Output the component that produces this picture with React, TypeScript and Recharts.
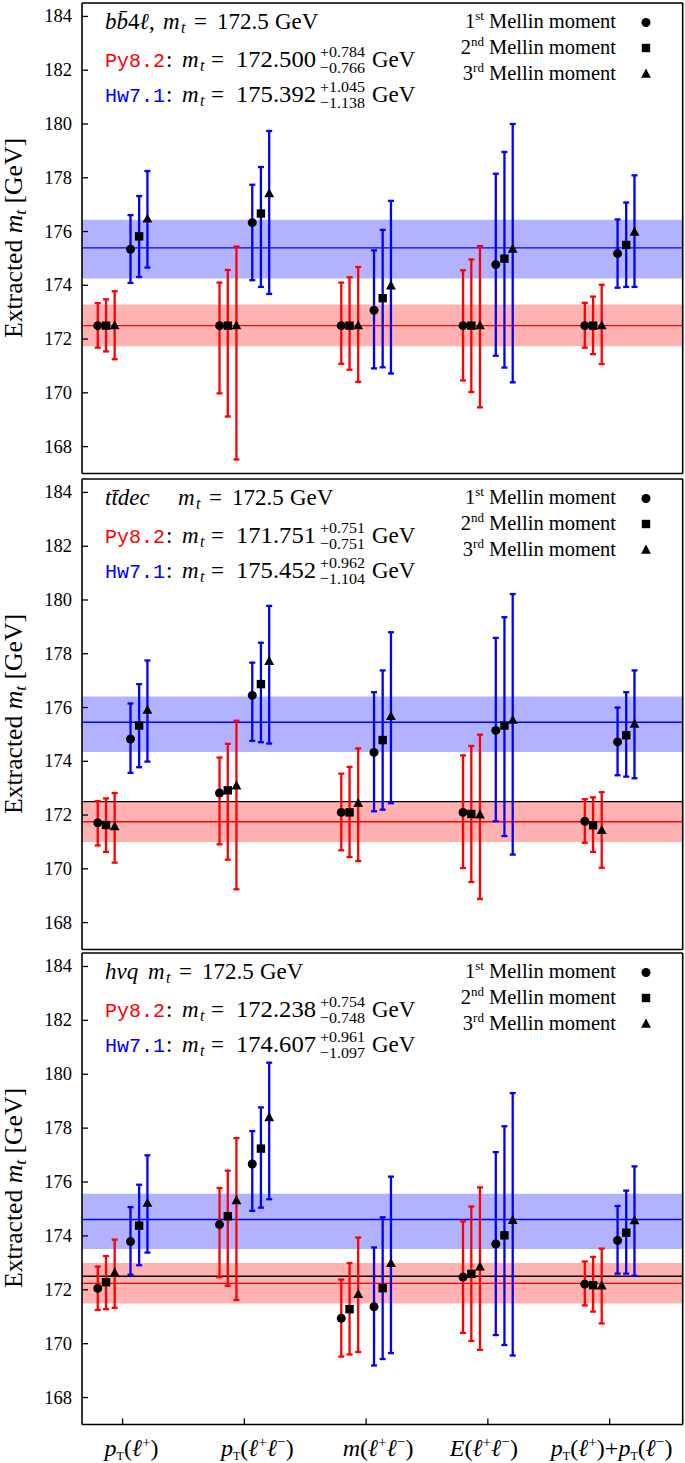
import React from 'react';
import { ScatterChart, Scatter, XAxis, YAxis, ErrorBar, ReferenceArea, ReferenceLine } from 'recharts';

// observables on the x axis (tick labels)
const categories = ['pT(ℓ+)', 'pT(ℓ+ℓ−)', 'm(ℓ+ℓ−)', 'E(ℓ+ℓ−)', 'pT(ℓ+)+pT(ℓ−)'];
const moments = ['1st', '2nd', '3rd'];
const yTicks = [168, 170, 172, 174, 176, 178, 180, 182, 184];
const trueMass = 172.5;

// one entry per panel
const panelTitles = ['bb̄4ℓ', 'tt̄dec', 'hvq'];
const pyMass = [172.5, 171.751, 172.238];
const pyUp = [0.784, 0.751, 0.754];
const pyDown = [0.766, 0.751, 0.748];
const hwMass = [175.392, 175.452, 174.607];
const hwUp = [1.045, 0.962, 0.961];
const hwDown = [1.138, 1.104, 1.097];

// bb4l panel: rows = 1st/2nd/3rd moment, columns = observables
const bb4lPyVal = [
  [172.5, 172.5, 172.5, 172.5, 172.5],
  [172.5, 172.5, 172.5, 172.5, 172.5],
  [172.5, 172.5, 172.5, 172.5, 172.5],
];
const bb4lPyLo = [
  [171.68, 169.98, 171.08, 170.46, 171.68],
  [171.54, 169.12, 170.86, 170.03, 171.44],
  [171.25, 167.52, 170.41, 169.46, 171.07],
];
const bb4lPyHi = [
  [173.34, 174.1, 174.1, 174.56, 173.35],
  [173.48, 174.57, 174.3, 174.96, 173.58],
  [173.78, 175.44, 174.68, 175.46, 174.02],
];
const bb4lHwVal = [
  [175.34, 176.33, 173.07, 174.77, 175.18],
  [175.82, 176.67, 173.52, 174.99, 175.5],
  [176.47, 177.41, 173.98, 175.35, 175.98],
];
const bb4lHwLo = [
  [174.09, 174.19, 170.91, 171.38, 173.91],
  [174.31, 173.94, 170.95, 170.94, 173.94],
  [174.66, 173.68, 170.72, 170.39, 173.94],
];
const bb4lHwHi = [
  [176.61, 177.74, 175.3, 178.15, 176.45],
  [177.32, 178.4, 176.06, 178.96, 177.08],
  [178.25, 179.74, 177.14, 180.0, 178.09],
];

// ttdec panel
const ttdecPyVal = [
  [171.71, 172.82, 172.1, 172.1, 171.77],
  [171.63, 172.92, 172.1, 172.04, 171.62],
  [171.57, 173.09, 172.44, 172.01, 171.43],
];
const ttdecPyLo = [
  [170.87, 170.91, 170.69, 170.03, 170.97],
  [170.63, 170.34, 170.44, 169.51, 170.63],
  [170.23, 169.24, 170.29, 168.88, 170.04],
];
const ttdecPyHi = [
  [172.52, 174.14, 173.54, 174.22, 172.59],
  [172.62, 174.65, 173.79, 174.57, 172.66],
  [172.82, 175.51, 174.48, 174.99, 172.85],
];
const ttdecHwVal = [
  [174.83, 176.45, 174.33, 175.15, 174.72],
  [175.33, 176.87, 174.79, 175.33, 174.97],
  [175.91, 177.72, 175.67, 175.53, 175.39],
];
const ttdecHwLo = [
  [173.57, 174.76, 172.14, 171.77, 173.48],
  [173.78, 174.71, 172.2, 171.22, 173.43],
  [173.99, 174.66, 172.44, 170.53, 173.37],
];
const ttdecHwHi = [
  [176.15, 177.67, 176.57, 178.59, 176.0],
  [176.87, 178.41, 177.38, 179.36, 176.57],
  [177.75, 179.78, 178.8, 180.22, 177.38],
];

// hvq panel
const hvqPyVal = [
  [172.05, 174.42, 170.94, 172.47, 172.21],
  [172.28, 174.73, 171.28, 172.59, 172.17],
  [172.63, 175.31, 171.83, 172.85, 172.15],
];
const hvqPyLo = [
  [171.25, 172.47, 169.52, 170.4, 171.42],
  [171.28, 172.15, 169.6, 170.1, 171.19],
  [171.33, 171.62, 169.69, 169.77, 170.75],
];
const hvqPyHi = [
  [172.86, 175.78, 172.38, 174.54, 173.05],
  [173.25, 176.42, 172.99, 175.09, 173.22],
  [173.86, 177.63, 173.94, 175.8, 173.53],
];
const hvqHwVal = [
  [173.79, 176.67, 171.37, 173.7, 173.83],
  [174.38, 177.24, 172.06, 174.02, 174.12],
  [175.22, 178.39, 172.98, 174.58, 174.57],
];
const hvqHwLo = [
  [172.56, 174.93, 169.19, 170.32, 172.6],
  [172.91, 175.05, 169.43, 169.95, 172.6],
  [173.38, 175.36, 169.65, 169.56, 172.52],
];
const hvqHwHi = [
  [175.07, 177.89, 173.57, 177.11, 175.11],
  [175.9, 178.77, 174.69, 178.07, 175.68],
  [176.99, 180.43, 176.2, 179.3, 176.58],
];

const pyVal = [bb4lPyVal, ttdecPyVal, hvqPyVal];
const pyLo = [bb4lPyLo, ttdecPyLo, hvqPyLo];
const pyHi = [bb4lPyHi, ttdecPyHi, hvqPyHi];
const hwVal = [bb4lHwVal, ttdecHwVal, hvqHwVal];
const hwLo = [bb4lHwLo, ttdecHwLo, hvqHwLo];
const hwHi = [bb4lHwHi, ttdecHwHi, hvqHwHi];

// layout
const W = 685;
const SERIF = "'Liberation Serif', 'DejaVu Serif', serif";
const MONO = "'Liberation Mono', 'DejaVu Sans Mono', monospace";
const RED = '#ff0000';
const BLUE = '#0000ff';
const X_DOMAIN = [-1 / 3, 4.6];
const Y_DOMAIN = [167, 184.5];
const redShift = [-0.204, -0.136, -0.065];
const blueShift = [0.065, 0.136, 0.204];
const chartTops = [0, 475.5, 950];
const titleMx = [163, 178, 148];
const labelNudge = [9, 13, 12, -4, 2];

const buildSeries = (val: number[][], lo: number[][], hi: number[][], shift: number[]) =>
  moments.map((_, k) =>
    categories.map((_, i) => ({
      x: i + shift[k],
      y: val[k][i],
      err: [val[k][i] - lo[k][i], hi[k][i] - val[k][i]],
    }))
  );

const Marker = ({ cx, cy, kind }: any) => {
  if (cx == null || cy == null) return null;
  if (kind === 0) return <circle cx={cx} cy={cy} r={4.5} fill="#000" />;
  if (kind === 1) return <rect x={cx - 4.2} y={cy - 4.2} width={8.4} height={8.4} fill="#000" />;
  return <polygon points={`${cx},${cy - 5.5} ${cx - 4.9},${cy + 3.7} ${cx + 4.9},${cy + 3.7}`} fill="#000" />;
};

// turns "pT(ℓ+)" into tspans with italic letters, subscript T and superscript charges
const mathTspans = (s: string, base: number) => {
  const out: any[] = [];
  let shift = 0;
  const push = (text: string, style: any, target: number) => {
    const dy = target - shift;
    shift = target;
    out.push(
      <tspan key={out.length} dy={dy} {...style}>
        {text}
      </tspan>
    );
  };
  for (let i = 0; i < s.length; i++) {
    const c = s[i];
    const prev = s[i - 1];
    if (c === 'T' && prev === 'p') push('T', { fontSize: base * 0.5 }, base * 0.2);
    else if ((c === '+' || c === '−') && prev === 'ℓ') push(c, { fontSize: base * 0.64 }, -base * 0.36);
    else if ('pmEℓ'.includes(c)) push(c, { fontStyle: 'italic' }, 0);
    else push(c, {}, 0);
  }
  return out;
};

const XTick = (props: any) => {
  const { x, y, payload } = props;
  const i = payload.value;
  return (
    <text x={x + labelNudge[i]} y={y + 31} textAnchor="middle" fontFamily={SERIF} fontSize={24} fill="#000">
      {mathTspans(categories[i], 24)}
    </text>
  );
};

const YTick = (props: any) => {
  const { x, y, payload } = props;
  return (
    <text x={x} y={y + 6} textAnchor="end" fontFamily={SERIF} fontSize={18.5} fill="#000">
      {payload.value}
    </text>
  );
};

const Title = ({ p }: { p: number }) => {
  const t = panelTitles[p];
  const mx = titleMx[p];
  let head: any;
  if (p === 0)
    head = (
      <>
        <tspan fontStyle="italic">{t.slice(0, 3)}</tspan>
        <tspan>4</tspan>
        <tspan fontStyle="italic">ℓ</tspan>
        <tspan>,</tspan>
      </>
    );
  else head = <tspan fontStyle="italic">{t}</tspan>;
  return (
    <g fontFamily={SERIF} fill="#000">
      <text x={105} y={29} fontSize={23}>
        {head}
      </text>
      <text x={mx} y={29} fontSize={23} fontStyle="italic">m</text>
      <text x={mx + 18} y={33} fontSize={16} fontStyle="italic">t</text>
      <text x={mx + 31} y={29} fontSize={23}>=</text>
      <text x={mx + 54} y={29} fontSize={23}>{trueMass.toFixed(1)}</text>
      <text x={mx + 112} y={29} fontSize={23}>GeV</text>
    </g>
  );
};

const ResultLine = ({ name, color, mass, up, down, y }: any) => (
  <g fontFamily={SERIF} fill="#000">
    <text x={105} y={y} fontSize={20} fontFamily={MONO} fill={color}>{name}</text>
    <text x={166} y={y} fontSize={23}>:</text>
    <text x={182} y={y} fontSize={23} fontStyle="italic">m</text>
    <text x={200} y={y + 4} fontSize={16} fontStyle="italic">t</text>
    <text x={211} y={y} fontSize={23}>=</text>
    <text x={236} y={y} fontSize={23} textLength={80} lengthAdjust="spacingAndGlyphs">{mass.toFixed(3)}</text>
    <text x={320} y={y - 10} fontSize={15.5} textLength={45} lengthAdjust="spacingAndGlyphs">{'+' + up.toFixed(3)}</text>
    <text x={320} y={y + 6.5} fontSize={15.5} textLength={45} lengthAdjust="spacingAndGlyphs">{'−' + down.toFixed(3)}</text>
    <text x={372} y={y} fontSize={23}>GeV</text>
  </g>
);

const MomentKey = () => (
  <g fontFamily={SERIF} fill="#000">
    {moments.map((m, k) => {
      const y = [28, 54, 79.5][k];
      const cy = [22.5, 48, 74][k];
      return (
        <g key={m}>
          <text x={616} y={y} fontSize={20.5} textAnchor="end">
            <tspan>{m[0]}</tspan>
            <tspan fontSize={13} dy={-8}>{m.slice(1)}</tspan>
            <tspan dy={8}> Mellin moment</tspan>
          </text>
          <Marker cx={646} cy={cy} kind={k} />
        </g>
      );
    })}
  </g>
);

const Overlay = ({ p }: { p: number }) => (
  <svg width={W} height={476} style={{ position: 'absolute', left: 0, top: chartTops[p], pointerEvents: 'none' }}>
    <Title p={p} />
    <ResultLine name="Py8.2" color={RED} mass={pyMass[p]} up={pyUp[p]} down={pyDown[p]} y={66.5} />
    <ResultLine name="Hw7.1" color={BLUE} mass={hwMass[p]} up={hwUp[p]} down={hwDown[p]} y={101.5} />
    <MomentKey />
    <text
      x={22}
      y={238}
      transform="rotate(-90 22 238)"
      textAnchor="middle"
      fontFamily={SERIF}
      fontSize={25}
      fill="#000"
      textLength={200}
      lengthAdjust="spacingAndGlyphs"
    >
      Extracted <tspan fontStyle="italic">m</tspan>
      <tspan fontStyle="italic" fontSize={17} dy={4}>t</tspan>
      <tspan dy={-4}> [GeV]</tspan>
    </text>
  </svg>
);

const axisLine = { stroke: '#000', strokeWidth: 1.6 };
const tickLine = { stroke: '#000', strokeWidth: 1.3 };

const Panel = ({ p }: { p: number }) => {
  const last = p === 2;
  const height = last ? 513 : 476;
  const py = buildSeries(pyVal[p], pyLo[p], pyHi[p], redShift);
  const hw = buildSeries(hwVal[p], hwLo[p], hwHi[p], blueShift);
  return (
    <div style={{ position: 'absolute', left: 0, top: chartTops[p], width: W, height }}>
      <ScatterChart width={W} height={height} margin={{ top: 2, right: 1.3, bottom: 1.5, left: 0 }}>
        <ReferenceArea
          y1={pyMass[p] - pyDown[p]}
          y2={pyMass[p] + pyUp[p]}
          fill={RED}
          fillOpacity={0.3}
          stroke="none"
        />
        <ReferenceArea
          y1={hwMass[p] - hwDown[p]}
          y2={hwMass[p] + hwUp[p]}
          fill={BLUE}
          fillOpacity={0.3}
          stroke="none"
        />
        {pyMass[p] !== trueMass && <ReferenceLine y={trueMass} stroke="#000" strokeWidth={1.4} />}
        <ReferenceLine y={pyMass[p]} stroke={RED} strokeWidth={1.4} />
        <ReferenceLine y={hwMass[p]} stroke={BLUE} strokeWidth={1.4} />
        <XAxis
          dataKey="x"
          type="number"
          domain={X_DOMAIN}
          ticks={[0, 1, 2, 3, 4]}
          interval={0}
          allowDataOverflow
          height={last ? 37 : 1}
          tickSize={-6}
          tickMargin={6}
          tick={last ? <XTick /> : false}
          axisLine={axisLine}
          tickLine={tickLine}
        />
        <XAxis
          xAxisId="top"
          orientation="top"
          type="number"
          domain={X_DOMAIN}
          ticks={[0, 1, 2, 3, 4]}
          interval={0}
          allowDataOverflow
          height={1}
          tickSize={-6}
          tick={false}
          axisLine={axisLine}
          tickLine={tickLine}
        />
        <YAxis
          dataKey="y"
          type="number"
          domain={Y_DOMAIN}
          ticks={yTicks}
          interval={0}
          allowDataOverflow
          width={82}
          tickSize={-6}
          tickMargin={16}
          tick={<YTick />}
          axisLine={axisLine}
          tickLine={tickLine}
        />
        <YAxis
          yAxisId="right"
          orientation="right"
          type="number"
          domain={Y_DOMAIN}
          ticks={yTicks}
          interval={0}
          allowDataOverflow
          width={1}
          tickSize={-6}
          tick={false}
          axisLine={axisLine}
          tickLine={tickLine}
        />
        {py.map((data, k) => (
          <Scatter
            key={'py' + k}
            data={data}
            dataKey="y"
            isAnimationActive={false}
            shape={(s: any) => <Marker cx={s.cx} cy={s.cy} kind={k} />}
          >
            <ErrorBar dataKey="err" direction="y" width={3} strokeWidth={2.3} stroke={RED} isAnimationActive={false} />
          </Scatter>
        ))}
        {hw.map((data, k) => (
          <Scatter
            key={'hw' + k}
            data={data}
            dataKey="y"
            isAnimationActive={false}
            shape={(s: any) => <Marker cx={s.cx} cy={s.cy} kind={k} />}
          >
            <ErrorBar dataKey="err" direction="y" width={3} strokeWidth={2.3} stroke={BLUE} isAnimationActive={false} />
          </Scatter>
        ))}
      </ScatterChart>
    </div>
  );
};

const App = () => (
  <div style={{ position: 'absolute', left: 0, top: 0, width: W, height: 1463, overflow: 'hidden', background: '#fff' }}>
    {[0, 1, 2].map((p) => (
      <React.Fragment key={p}>
        <Panel p={p} />
        <Overlay p={p} />
      </React.Fragment>
    ))}
  </div>
);

export default App;
